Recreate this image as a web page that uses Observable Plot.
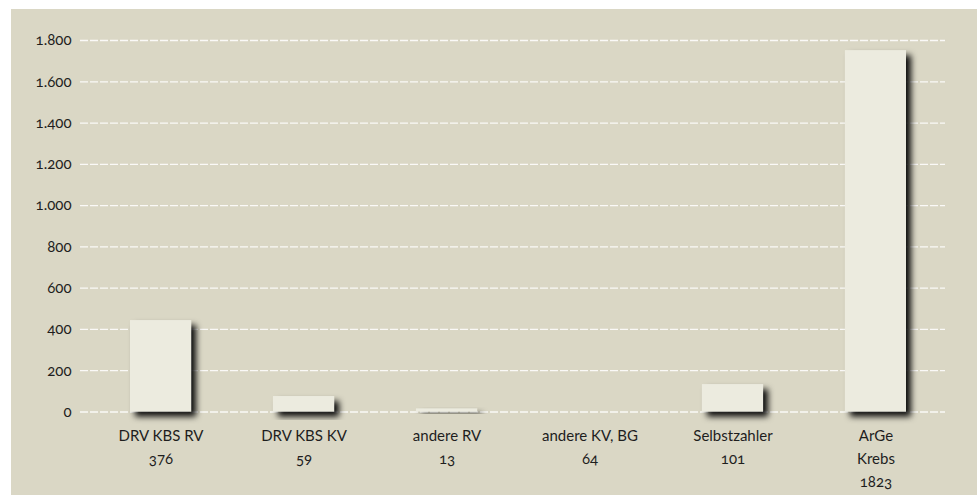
<!DOCTYPE html>
<html><head><meta charset="utf-8">
<script src="https://cdn.jsdelivr.net/npm/d3@7"></script>
<script src="https://cdn.jsdelivr.net/npm/@observablehq/plot@0.6"></script>
<style>
html,body{margin:0;padding:0;background:#fff;width:977px;height:495px;overflow:hidden;}
#box{position:absolute;left:11px;top:9px;width:966px;height:486px;background:#dad7c5;}
#box svg{font-family:Lato,"Open Sans",sans-serif;font-variant-numeric:oldstyle-nums;font-feature-settings:"onum";}
#box svg text{font-size:15px !important;fill:#1e1e1e;}
</style></head>
<body><div id="box"></div>
<script>
const categories = ["DRV KBS RV","DRV KBS KV","andere RV","andere KV, BG","Selbstzahler","ArGe\nKrebs"];
const counts = ["376","59","13","64","101","1823"];
const values = [443, 75, 15, 0, 133, 1751];
const yTicks = [0,200,400,600,800,1000,1200,1400,1600,1800];

const data = categories.map((c,i)=>({cat:c, value:values[i], count:counts[i]}));
const de = d3.formatLocale({decimal:",", thousands:".", grouping:[3], currency:["","€"]});
const fmt = de.format(",d");

const chart = Plot.plot({
  width: 966, height: 486,
  marginLeft: 69, marginRight: 32, marginTop: 31, marginBottom: 83.5,
  style: {background:"transparent", fontSize:"15px", color:"#1e1e1e"},
  x: {domain: categories, paddingInner: 0.573, paddingOuter: 0, round: false, insetLeft: 50, insetRight: 39, label: null},
  y: {domain: [0,1800], label: null},
  marks: [
    Plot.gridY(yTicks, {stroke:"#ffffff", strokeOpacity:0.85, strokeWidth:1.3, strokeDasharray:"8,2"}),
    Plot.barY(data, {x:"cat", y:"value", fill:"#ecebdf"}),
    Plot.axisY(yTicks, {tickSize:0, tickPadding:9, tickFormat:fmt, fontSize:15, label:null}),
    Plot.axisX({tickSize:0, tickPadding:13, fontSize:15, lineHeight:1.53, label:null,
      tickFormat: d => d + "\n" + counts[categories.indexOf(d)]})
  ]
});
const svgNS = "http://www.w3.org/2000/svg";
const defs = document.createElementNS(svgNS, "defs");
defs.innerHTML = '<filter id="sh" x="-30%" y="-30%" width="180%" height="180%"><feDropShadow dx="5" dy="5" stdDeviation="3.2" flood-color="#000" flood-opacity="0.95"/></filter>';
chart.insertBefore(defs, chart.firstChild);
chart.querySelectorAll('g[aria-label="bar"] rect').forEach(r => r.setAttribute("filter","url(#sh)"));
document.getElementById("box").appendChild(chart);
</script>
</body></html>
